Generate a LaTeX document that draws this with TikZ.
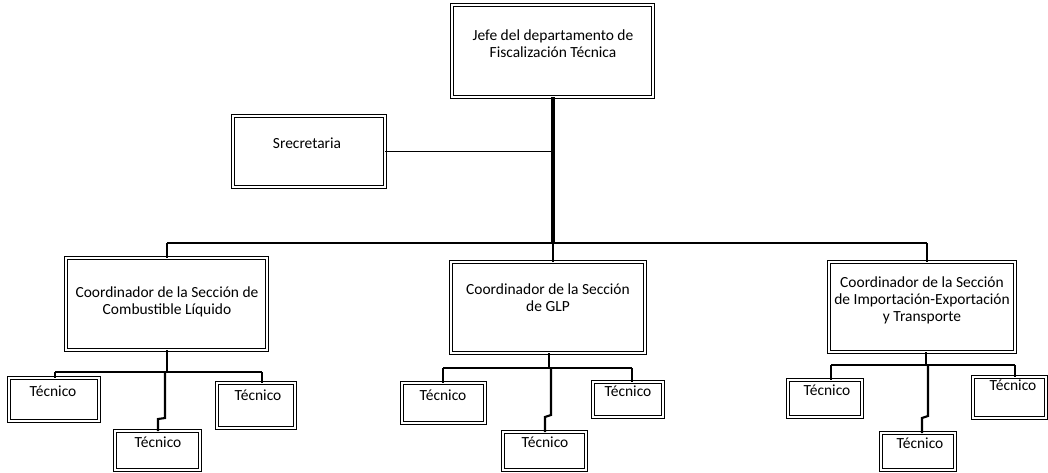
\documentclass[tikz,border=0pt]{standalone}
\usepackage{fontspec}
\setmainfont{Carlito}
\begin{document}
\begin{tikzpicture}[x=0.75pt,y=-0.75pt,
  frame/.style={draw=black, double=white, double distance=1.1pt, line width=0.7pt,
                inner sep=0pt, fill=white},
  lbl/.style={font=\fontsize{11.6}{12.75}\selectfont, align=center, inner sep=0pt},
  trunk/.style={line width=2.4pt},
  bus/.style={line width=1.6pt},
  thin/.style={line width=1.4pt}]
\useasboundingbox (0,0) rectangle (1048,472);

% department head
\node[frame, minimum width=150.75pt, minimum height=69pt] (jefe) at (552.5,51) {};
\node[lbl] (jefeT) at (553,43.5) {Jefe del departamento de\\Fiscalización Técnica};

% secretary
\node[frame, minimum width=114pt, minimum height=53.25pt] (sec) at (309,151.5) {};
\node[lbl] (secT) at (307,143) {Srecretaria};

% section coordinators
\node[frame, minimum width=150.75pt, minimum height=69pt] (c1) at (166.5,304) {};
\node[lbl] (c1T) at (167,302) {Coordinador de la Sección de\\Combustible Líquido};
\node[frame, minimum width=145.5pt, minimum height=68.25pt] (c2) at (548,307.5) {};
\node[lbl] (c2T) at (548,298) {Coordinador de la Sección\\de GLP};
\node[frame, minimum width=139.5pt, minimum height=67.5pt] (c3) at (922,307) {};
\node[lbl] (c3T) at (922,300) {Coordinador de la Sección\\de Importación-Exportación\\y Transporte};

% technicians
\node[frame, minimum width=67.5pt, minimum height=32.25pt] (t1a) at (54,399.5) {};
\node[lbl] (t1aT) at (53,391) {Técnico};
\node[frame, minimum width=63.75pt, minimum height=29.25pt] (t1b) at (157.5,450.5) {};
\node[lbl] (t1bT) at (158,442) {Técnico};
\node[frame, minimum width=58.5pt, minimum height=33.75pt] (t1c) at (256,405.5) {};
\node[lbl] (t1cT) at (258,395) {Técnico};

\node[frame, minimum width=62.25pt, minimum height=30pt] (t2a) at (443.5,403) {};
\node[lbl] (t2aT) at (443,395) {Técnico};
\node[frame, minimum width=62.25pt, minimum height=28.5pt] (t2b) at (544.5,451) {};
\node[lbl] (t2bT) at (545,442) {Técnico};
\node[frame, minimum width=52.5pt, minimum height=26.25pt] (t2c) at (628,399.5) {};
\node[lbl] (t2cT) at (628,391) {Técnico};

\node[frame, minimum width=55.5pt, minimum height=27.75pt] (t3a) at (825,398.5) {};
\node[lbl] (t3aT) at (827,390) {Técnico};
\node[frame, minimum width=55.5pt, minimum height=27.75pt] (t3b) at (918,451.5) {};
\node[lbl] (t3bT) at (920,443) {Técnico};
\node[frame, minimum width=54.75pt, minimum height=30.75pt] (t3c) at (1009.5,397.5) {};
\node[lbl] (t3cT) at (1013,385) {Técnico};

% main branch
\coordinate (top) at (553,97);
\coordinate (bus) at (553,243);
\draw[trunk] (top) -- (bus);
\draw[thin] (sec.east) -- (sec.east -| bus);
\draw[bus] (167,243) coordinate (busL) -- (927,243) coordinate (busR);
\draw[bus] (busL) -- (busL |- c1.north);
\draw[bus] (bus) -- (bus |- c2.north);
\draw[bus] (busR) -- (busR |- c3.north);

% fuel section
\coordinate (g1) at (167,372);
\draw[bus] (g1 |- c1.south) -- (g1);
\draw[bus] (55,372) coordinate (g1L) -- (262,372) coordinate (g1R);
\draw[bus] (g1L) -- (g1L |- t1a.north);
\draw[bus] (g1R) -- (g1R |- t1c.north);
\draw[bus] (165,372) -- (165,418) -- (158,419) -- (158,431) coordinate (g1M);

% GLP section
\coordinate (g2) at (549,368);
\draw[bus] (g2 |- c2.south) -- (g2);
\draw[bus] (443,368) coordinate (g2L) -- (632,368) coordinate (g2R);
\draw[bus] (g2L) -- (g2L |- t2a.north);
\draw[bus] (g2R) -- (g2R |- t2c.north);
\draw[bus] (551,368) -- (551,415) -- (545,417) -- (545,432) coordinate (g2M);

% import-export section
\coordinate (g3) at (926,365);
\draw[bus] (g3 |- c3.south) -- (g3);
\draw[bus] (831,365) coordinate (g3L) -- (1015,365) coordinate (g3R);
\draw[bus] (g3L) -- (g3L |- t3a.north);
\draw[bus] (g3R) -- (g3R |- t3c.north);
\draw[bus] (928,365) -- (928,416) -- (922,418) -- (922,433) coordinate (g3M);
\end{tikzpicture}
\end{document}
